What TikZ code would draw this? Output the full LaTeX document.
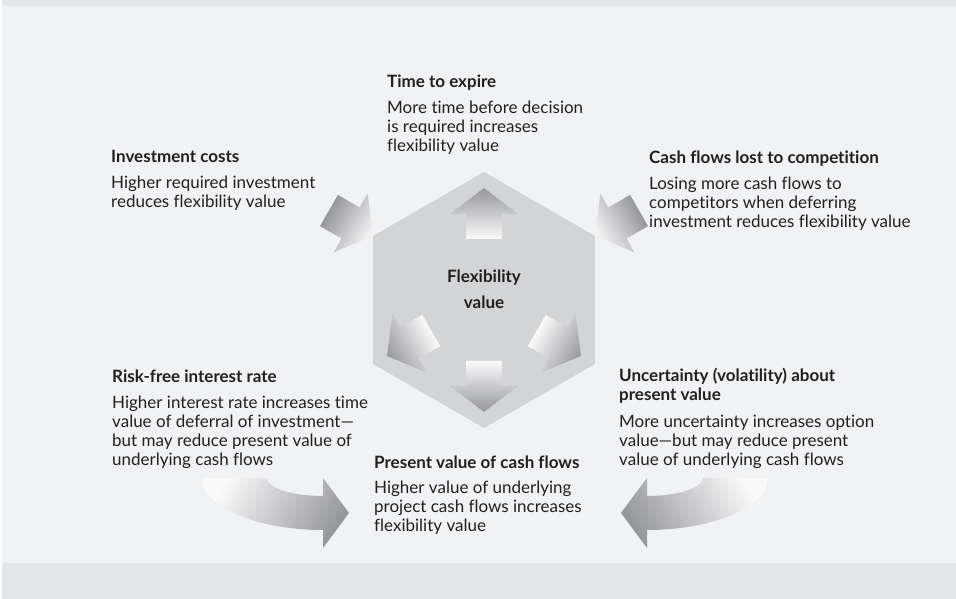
\documentclass[tikz,border=0pt]{standalone}
\usepackage{fontspec}
\setmainfont{Lato}[Ligatures={TeX,NoCommon}]
\usetikzlibrary{calc}
\definecolor{panelgray}{HTML}{F1F2F4}
\definecolor{stripgray}{HTML}{E4E5E7}
\definecolor{hexgray}{HTML}{D3D4D6}
\definecolor{arrowdark}{HTML}{96979A}
\definecolor{arrowlight}{HTML}{FAFAFB}
\definecolor{inkblack}{HTML}{231F20}

\newcommand{\blockarrow}[3]{%
  \begin{scope}[transform canvas={shift={#1}, rotate=#2}]
    \shade[#3] (0,-18) -- (25,-18) -- (25,-34) -- (51,0) -- (25,34) -- (25,18) -- (0,18) -- cycle;
  \end{scope}}

\begin{document}
\begin{tikzpicture}[x=1pt, y=1pt,
  infotext/.style={anchor=north west, align=left, inner sep=0pt, text=inkblack, font=\fontsize{17}{19}\selectfont},
  centretext/.style={align=center, inner sep=0pt, text=inkblack, font=\bfseries\fontsize{17}{26}\selectfont},
  outward/.style={left color=arrowlight, right color=arrowdark},
  inward/.style={left color=arrowdark, right color=arrowlight}
]
\useasboundingbox (0,0) rectangle (956,599);
\fill[stripgray] (0,0) rectangle (956,599);
\fill[panelgray] (0,36) rectangle (956,593);
\fill[white] (0,0) rectangle (1.7,599);

\coordinate (flex) at (484,299);
\fill[hexgray, shift={(flex)}] (90:128) -- (150:128) -- (210:128) -- (270:128) -- (330:128) -- (30:128) -- cycle;
\foreach \ang in {90,210,270,330}
  \blockarrow{($(flex)+(\ang:61)$)}{\ang}{outward};
\foreach \ang in {30,150}
  \blockarrow{($(flex)+(\ang:179)$)}{\ang+180}{inward};

\shade[top color=arrowdark, bottom color=arrowlight, shading angle=-120]
  (202,121) arc[start angle=180, end angle=270, x radius=121, y radius=52] -- (323,51) -- (349,86) -- (323,121)
  -- (323,103) arc[start angle=270, end angle=180, x radius=56, y radius=18] -- cycle;
\shade[top color=arrowdark, bottom color=arrowlight, shading angle=120]
  (768,121) arc[start angle=0, end angle=-90, x radius=121, y radius=52] -- (647,51) -- (621,86) -- (647,121)
  -- (647,103) arc[start angle=-90, end angle=0, x radius=56, y radius=18] -- cycle;

\node[centretext, anchor=north] (flexlabel) at (484,329.5) {Flexibility\\value};

\node[infotext] (timetext) at (387,524.5) {{\bfseries Time to expire}\\[7pt]More time before decision\\is required increases\\flexibility value};
\node[infotext] (invtext) at (111,448.5) {{\bfseries Investment costs}\\[7pt]Higher required investment\\reduces flexibility value};
\node[infotext] (lostext) at (649,448.5) {{\bfseries Cash flows lost to competition}\\[7pt]Losing more cash flows to\\competitors when deferring\\investment reduces flexibility value};
\node[infotext] (risktext) at (112,229.5) {{\bfseries Risk-free interest rate}\\[7pt]Higher interest rate increases time\\value of deferral of investment---\\but may reduce present value of\\underlying cash flows};
\node[infotext] (uncertext) at (619,231.5) {{\bfseries Uncertainty (volatility) about}\\{\bfseries present value}\\[8pt]More uncertainty increases option\\value---but may reduce present\\value of underlying cash flows};
\node[infotext] (pvtext) at (374,143.5) {{\bfseries Present value of cash flows}\\[6pt]Higher value of underlying\\project cash flows increases\\flexibility value};
\end{tikzpicture}
\end{document}
